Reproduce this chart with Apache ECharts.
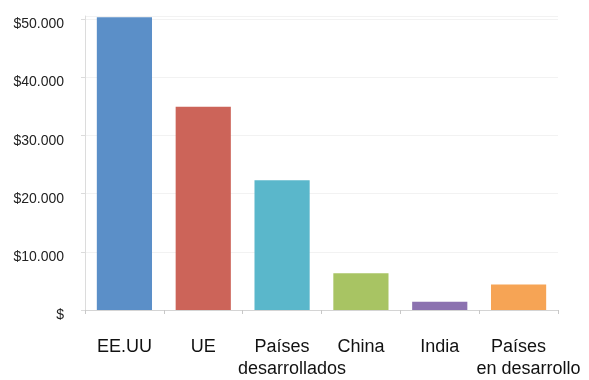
<!DOCTYPE html>
<html>
<head>
<meta charset="utf-8">
<script src="https://cdn.jsdelivr.net/npm/echarts@6/dist/echarts.min.js"></script>
<style>
html,body{margin:0;padding:0;background:#fff;}
#chart{width:589px;height:380px;}
</style>
</head>
<body>
<div id="chart"></div>
<script>
var categories = ['EE.UU', 'UE', 'Países\ndesarrollados', 'China', 'India', 'Países\nen desarrollo'];
var values = [50300, 34900, 22300, 6300, 1400, 4400];
var barColors = ['#5b8fc8', '#cc6459', '#5ab7cb', '#a8c463', '#8c72b0', '#f6a455'];
var yTickLabels = {0: '$', 10000: '$10.000', 20000: '$20.000', 30000: '$30.000', 40000: '$40.000', 50000: '$50.000'};

var FONT = 'Liberation Sans, Arial, sans-serif';
var chart = echarts.init(document.getElementById('chart'), null, {renderer: 'canvas'});
chart.setOption({
  animation: false,
  backgroundColor: '#fff',
  grid: {left: 85, right: 31, top: 16, bottom: 66, containLabel: false},
  xAxis: {
    type: 'category',
    data: categories,
    axisLine: {show: true, lineStyle: {color: '#d4d4d4', width: 1}},
    axisTick: {show: true, alignWithLabel: false, length: 4, lineStyle: {color: '#c8c8c8'}},
    axisLabel: {
      interval: 0,
      margin: 26,
      color: '#111',
      fontFamily: FONT,
      fontSize: 18,
      lineHeight: 22,
      formatter: function (v) {
        var p = v.split('\n');
        return p.length > 1 ? '{a|' + p[0] + '}\n{b|' + p[1] + '}' : '{a|' + v + '}';
      },
      rich: {
        a: {color: '#111', fontFamily: FONT, fontSize: 18, lineHeight: 22},
        b: {color: '#111', fontFamily: FONT, fontSize: 18, lineHeight: 22, padding: [0, 0, 0, 20]}
      }
    }
  },
  yAxis: {
    type: 'value',
    min: 0,
    max: 50500,
    interval: 10000,
    axisLine: {show: true, lineStyle: {color: '#dcdcdc', width: 1}},
    axisTick: {show: true, length: 4, inside: false, lineStyle: {color: '#dcdcdc'}},
    splitLine: {show: true, lineStyle: {color: '#f2f2f2', width: 1}},
    axisLabel: {
      margin: 21,
      color: '#222',
      fontFamily: FONT,
      fontSize: 14,
      verticalAlign: 'top',
      lineHeight: 11,
      showMaxLabel: false,
      formatter: function (v) { return yTickLabels[v] !== undefined ? yTickLabels[v] : ''; }
    }
  },
  series: [{
    type: 'bar',
    data: values.map(function (v, i) { return {value: v, itemStyle: {color: barColors[i]}}; }),
    barWidth: '70%'
  }]
});
</script>
</body>
</html>
